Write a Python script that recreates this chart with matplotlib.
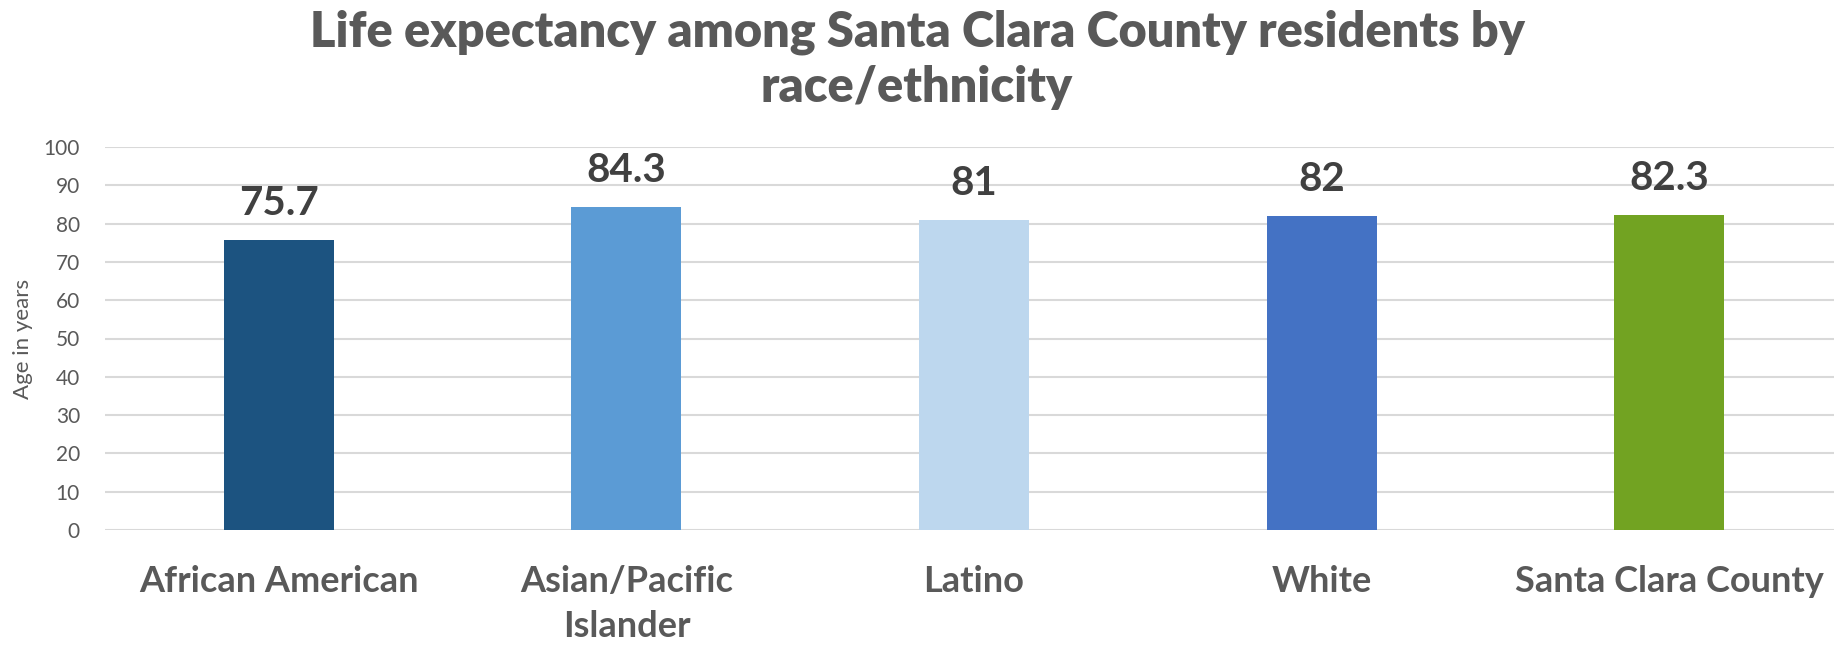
import matplotlib
matplotlib.use("Agg")
import matplotlib.pyplot as plt

categories = ["African American", "Asian/Pacific\nIslander", "Latino", "White", "Santa Clara County"]
values = [75.7, 84.3, 81, 82, 82.3]
value_labels = ["75.7", "84.3", "81", "82", "82.3"]
colors = ["#1C5380", "#5B9BD5", "#BDD7EE", "#4472C4", "#72A322"]
yticks = [0, 10, 20, 30, 40, 50, 60, 70, 80, 90, 100]

W, H = 1834, 645
fig = plt.figure(figsize=(W / 100, H / 100), dpi=100)
left, right = 105, 1843
top, bottom = 147, 530
ax = fig.add_axes([left / W, 1 - bottom / H, (right - left) / W, (bottom - top) / H])

x = list(range(len(categories)))
ax.bar(x, values, width=0.316, color=colors, zorder=3)
ax.set_xlim(-0.5, len(categories) - 0.5)
ax.set_ylim(0, 100)
ax.set_yticks(yticks)
ax.set_yticklabels([str(t) for t in yticks], fontsize=15, color="#595959", family="Lato")
ax.yaxis.grid(True, color="#D9D9D9", linewidth=1.5, zorder=0)
ax.set_axisbelow(True)
for s in ax.spines.values():
    s.set_visible(False)
ax.tick_params(axis="y", length=0, pad=18)
ax.tick_params(axis="x", length=0, pad=25)
ax.set_xticks(x)
ax.set_xticklabels(categories, fontsize=26, fontweight="bold", color="#595959",
                   family="Lato", linespacing=1.45, va="top")
ax.set_ylabel("Age in years", fontsize=16, color="#595959", family="Lato", labelpad=8)

for xi, v, lab in zip(x, values, value_labels):
    ax.annotate(lab, (xi, v), xytext=(0, 18), textcoords="offset points",
                ha="center", va="baseline", fontsize=29, fontweight="bold",
                color="#404040", family="Lato")

title_kw = dict(ha="center", va="center", fontsize=35, fontweight="heavy",
                color="#595959", family="Lato")
fig.text(0.5, 1 - 32 / H, "Life expectancy among Santa Clara County residents by", **title_kw)
fig.text(0.5, 1 - 88 / H, "race/ethnicity", **title_kw)

fig.savefig("out.png", dpi=100)
